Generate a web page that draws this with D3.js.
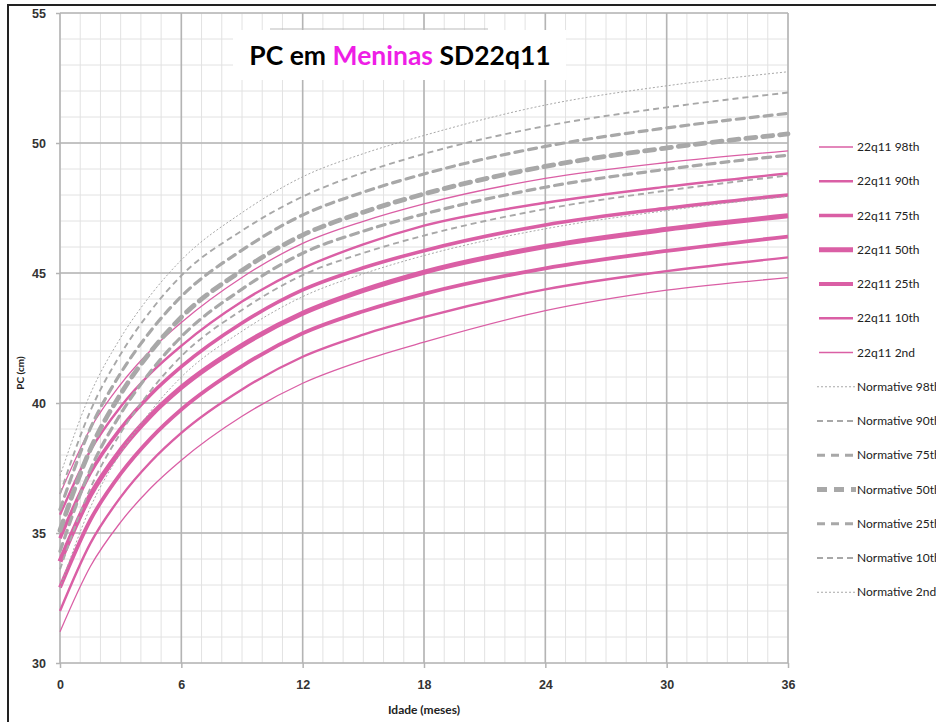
<!DOCTYPE html>
<html lang="pt">
<head>
<meta charset="UTF-8">
<title>PC em Meninas SD22q11</title>
<style>
  body { margin: 0; background: #fff; }
  svg { display: block; font-family: Lato, "Open Sans", sans-serif; }
  .grid-minor { stroke: #e2e2e2; stroke-width: 1; }
  .grid-major { stroke: #b4b4b4; stroke-width: 1.6; }
  .tick-label { font-size: 12.5px; font-weight: bold; fill: #333; }
  .legend text { font-size: 12px; fill: #222; }
</style>
</head>
<body>
<svg width="936" height="722"></svg>
<script src="https://cdn.jsdelivr.net/npm/d3@7"></script>
<script>
var months = [0, 1.5, 3, 4.5, 6, 9, 12, 15, 18, 24, 30, 36];

// 22q11 girls head circumference percentiles (cm)
var q98 = [36.5, 39.01, 40.72, 42.04, 43.1, 44.83, 46.14, 46.99, 47.66, 48.64, 49.25, 49.7];
var q90 = [35.7, 38.17, 39.86, 41.16, 42.2, 43.9, 45.18, 46.1, 46.82, 47.7, 48.32, 48.83];
var q75 = [34.8, 37.31, 39.02, 40.34, 41.4, 43.08, 44.35, 45.2, 45.86, 46.85, 47.49, 48.0];
var q50 = [33.9, 36.45, 38.19, 39.53, 40.6, 42.22, 43.45, 44.33, 45.03, 46.02, 46.68, 47.2];
var q25 = [32.9, 35.5, 37.28, 38.65, 39.75, 41.42, 42.68, 43.53, 44.2, 45.18, 45.85, 46.4];
var q10 = [32.0, 34.6, 36.38, 37.75, 38.85, 40.52, 41.78, 42.63, 43.3, 44.37, 45.07, 45.6];
var q02 = [31.2, 33.71, 35.42, 36.74, 37.8, 39.49, 40.76, 41.64, 42.34, 43.55, 44.34, 44.82];

// normative percentiles (cm)
var n98 = [37.2, 40.35, 42.51, 44.17, 45.5, 47.32, 48.7, 49.59, 50.29, 51.46, 52.2, 52.74];
var n90 = [36.5, 39.69, 41.88, 43.56, 44.9, 46.63, 47.94, 48.86, 49.58, 50.65, 51.37, 51.94];
var n75 = [35.9, 39.02, 41.15, 42.79, 44.1, 45.88, 47.23, 48.11, 48.81, 49.87, 50.58, 51.14];
var n50 = [35.1, 38.22, 40.35, 41.99, 43.3, 45.1, 46.46, 47.34, 48.04, 49.1, 49.81, 50.35];
var n25 = [34.3, 37.44, 39.58, 41.23, 42.55, 44.38, 45.76, 46.61, 47.27, 48.3, 48.99, 49.53];
var n10 = [33.6, 36.72, 38.85, 40.49, 41.8, 43.58, 44.92, 45.77, 46.44, 47.46, 48.17, 48.75];
var n02 = [32.9, 35.98, 38.08, 39.7, 41.0, 42.76, 44.09, 44.97, 45.67, 46.7, 47.4, 47.95];

var xTicks = [0, 6, 12, 18, 24, 30, 36];
var yTicks = [30, 35, 40, 45, 50, 55];

var pink = "#da5fa5", gray = "#a8a8a8";

var series = [
  { name: "22q11 98th", values: q98, color: pink, width: 1.3, dash: null },
  { name: "22q11 90th", values: q90, color: pink, width: 2.4, dash: null },
  { name: "22q11 75th", values: q75, color: pink, width: 3.6, dash: null },
  { name: "22q11 50th", values: q50, color: pink, width: 5, dash: null },
  { name: "22q11 25th", values: q25, color: pink, width: 3.8, dash: null },
  { name: "22q11 10th", values: q10, color: pink, width: 2.4, dash: null },
  { name: "22q11 2nd", values: q02, color: pink, width: 1.3, dash: null },
  { name: "Normative 98th", values: n98, color: gray, width: 1, dash: "2,2" },
  { name: "Normative 90th", values: n90, color: gray, width: 1.9, dash: "6,4" },
  { name: "Normative 75th", values: n75, color: gray, width: 3.2, dash: "8,6" },
  { name: "Normative 50th", values: n50, color: gray, width: 4.8, dash: "10,7" },
  { name: "Normative 25th", values: n25, color: gray, width: 3.2, dash: "8,6" },
  { name: "Normative 10th", values: n10, color: gray, width: 1.9, dash: "6,4" },
  { name: "Normative 2nd", values: n02, color: gray, width: 1, dash: "2,2" }
];

var svg = d3.select("svg");

var x = d3.scaleLinear().domain([0, 36]).range([60, 788]);
var y = d3.scaleLinear().domain([30, 55]).range([663, 13]);

// outer frame
svg.append("rect")
  .attr("x", 8).attr("y", 5)
  .attr("width", 940).attr("height", 730)
  .attr("fill", "none").attr("stroke", "#222").attr("stroke-width", 2);

// grid
var grid = svg.append("g");
grid.selectAll(".vmin").data(d3.range(0, 37, 1)).enter().append("line")
  .attr("class", "grid-minor")
  .attr("x1", d => x(d)).attr("x2", d => x(d))
  .attr("y1", y(55)).attr("y2", y(30));
grid.selectAll(".hmin").data(d3.range(30, 56, 1)).enter().append("line")
  .attr("class", "grid-minor")
  .attr("x1", x(0)).attr("x2", x(36))
  .attr("y1", d => y(d)).attr("y2", d => y(d));
grid.selectAll(".vmaj").data(xTicks).enter().append("line")
  .attr("class", "grid-major")
  .attr("x1", d => x(d)).attr("x2", d => x(d))
  .attr("y1", y(55)).attr("y2", y(30));
grid.selectAll(".hmaj").data(yTicks).enter().append("line")
  .attr("class", "grid-major")
  .attr("x1", x(0)).attr("x2", x(36))
  .attr("y1", d => y(d)).attr("y2", d => y(d));

// axes (ticks + labels only, the grid draws the lines)
var yAxis = svg.append("g")
  .attr("transform", "translate(" + x(0) + ",0)")
  .call(d3.axisLeft(y).tickValues(yTicks).tickSize(4).tickPadding(10));
var xAxis = svg.append("g")
  .attr("transform", "translate(0," + y(30) + ")")
  .call(d3.axisBottom(x).tickValues(xTicks).tickSize(5).tickPadding(12));
[yAxis, xAxis].forEach(function (a) {
  a.select(".domain").remove();
  a.selectAll(".tick line").attr("stroke", "#b4b4b4").attr("stroke-width", 1.5);
  a.selectAll(".tick text").attr("class", "tick-label").attr("font-family", null).attr("font-size", null);
});

// curves
var line = d3.line()
  .x((d, i) => x(months[i]))
  .y(d => y(d))
  .curve(d3.curveMonotoneX);

svg.append("g").selectAll("path").data(series).enter().append("path")
  .attr("d", d => line(d.values))
  .attr("fill", "none")
  .attr("stroke", d => d.color)
  .attr("stroke-width", d => d.width)
  .attr("stroke-dasharray", d => d.dash)
  .attr("stroke-linecap", d => d.dash && d.width > 2 ? "round" : "butt");

// title box
svg.append("rect").attr("x", 233).attr("y", 30).attr("width", 333).attr("height", 50).attr("fill", "#fff");
svg.append("line").attr("x1", 270).attr("x2", 488).attr("y1", 29).attr("y2", 29)
  .attr("stroke", "#bbb").attr("stroke-width", 1);
var title = svg.append("text")
  .attr("x", 400).attr("y", 65)
  .attr("text-anchor", "middle")
  .attr("font-size", 26.5).attr("font-weight", "bold").attr("fill", "#000");
title.append("tspan").text("PC em ");
title.append("tspan").attr("fill", "#ee1ee6").text("Meninas");
title.append("tspan").text(" SD22q11");

// axis titles
svg.append("text")
  .attr("x", 424).attr("y", 714)
  .attr("text-anchor", "middle")
  .attr("font-size", 12).attr("font-weight", "bold").attr("fill", "#222")
  .text("Idade (meses)");
svg.append("text")
  .attr("transform", "translate(24,373) rotate(-90)")
  .attr("text-anchor", "middle")
  .attr("font-size", 10).attr("font-weight", "bold").attr("fill", "#222")
  .text("PC (cm)");

// legend (the reference crops the normative labels at the right edge)
var legend = svg.append("g").attr("class", "legend");
var row = legend.selectAll("g").data(series).enter().append("g")
  .attr("transform", (d, i) => "translate(0," + (147 + i * 34.25) + ")");
row.append("line")
  .attr("x1", d => d.dash ? 817 : 819).attr("x2", d => d.dash ? 856 : 853)
  .attr("stroke", d => d.color)
  .attr("stroke-width", d => d.width)
  .attr("stroke-dasharray", d => d.dash);
row.append("text")
  .attr("x", 857).attr("dy", "0.35em")
  .text(d => d.name);
</script>
</body>
</html>
